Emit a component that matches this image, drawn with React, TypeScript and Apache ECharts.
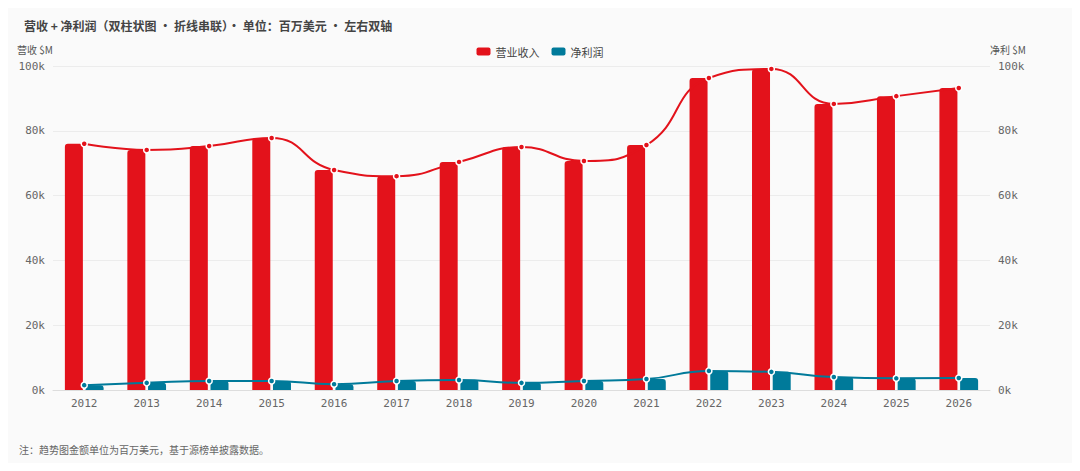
import * as echarts from 'echarts';
import { useEffect, useRef } from 'react';

const years = ['2012', '2013', '2014', '2015', '2016', '2017', '2018', '2019', '2020', '2021', '2022', '2023', '2024', '2025', '2026'];
const revenue = [76, 74.1, 75.3, 77.8, 67.9, 66, 70.4, 75, 70.7, 75.6, 96.3, 99.1, 88.3, 90.7, 93.2].map((v) => v * 1000);
const netIncome = [1.5, 2.2, 2.8, 2.8, 1.8, 2.8, 3.1, 2.2, 2.8, 3.4, 5.9, 5.6, 4.0, 3.6, 3.7].map((v) => v * 1000);

const RED = '#e3121b';
const BLUE = '#007a9a';
const mono = 'DejaVu Sans Mono';
const sans = 'Noto Sans CJK SC';

const axisLabelFmt = (v: number) => `${v / 1000}k`;

const App = () => {
  const chartRef = useRef<HTMLDivElement>(null);

  useEffect(() => {
    if (!chartRef.current) return;
    const chart = echarts.init(chartRef.current, null, { renderer: 'svg' });

    const valueAxis = (name: string, pos: 'left' | 'right') => ({
      type: 'value',
      position: pos,
      name,
      min: 0,
      max: 100000,
      interval: 20000,
      nameGap: 12,
      nameTextStyle: { color: '#555', fontSize: 10, fontFamily: sans, align: pos === 'left' ? 'right' : 'left', padding: 0 },
      axisLabel: { color: '#666', fontSize: 11, fontFamily: mono, formatter: axisLabelFmt },
      axisLine: { show: false },
      axisTick: { show: false },
      splitLine: { show: pos === 'left', lineStyle: { color: '#ececec' } },
    });

    chart.setOption({
      animation: false,
      backgroundColor: '#fafafa',
      title: {
        text: '营收 + 净利润（双柱状图 · 折线串联）· 单位：百万美元 · 左右双轴',
        left: 19,
        top: 14,
        textStyle: { fontSize: 12, fontWeight: 'bold', color: '#444', fontFamily: sans },
      },
      legend: {
        top: 41,
        left: 'center',
        itemWidth: 14,
        itemHeight: 8,
        itemGap: 12,
        textStyle: { color: '#444', fontSize: 11, fontFamily: sans },
        data: [
          { name: '营业收入', itemStyle: { color: RED } },
          { name: '净利润', itemStyle: { color: BLUE } },
        ],
      },
      grid: { left: 53, right: 90, top: 66, bottom: 81 },
      xAxis: {
        type: 'category',
        data: years,
        axisLine: { lineStyle: { color: '#ddd' } },
        axisTick: { lineStyle: { color: '#ddd' } },
        axisLabel: { color: '#666', fontSize: 11, fontFamily: mono, margin: 8 },
      },
      yAxis: [valueAxis('营收 $M', 'left'), valueAxis('净利 $M', 'right')],
      graphic: [
        {
          type: 'text',
          left: 19,
          top: 444,
          style: { text: '注：趋势图金额单位为百万美元，基于源榜单披露数据。', fill: '#666', fontSize: 10, fontFamily: sans },
        },
      ],
      series: [
        {
          name: '营业收入',
          type: 'bar',
          data: revenue,
          barWidth: 18,
          barGap: '15%',
          itemStyle: { color: RED, borderRadius: [3, 3, 0, 0] },
        },
        {
          name: '净利润',
          type: 'bar',
          yAxisIndex: 1,
          data: netIncome,
          barWidth: 18,
          itemStyle: { color: BLUE, borderRadius: [3, 3, 0, 0] },
        },
        {
          name: '营业收入',
          type: 'line',
          data: revenue,
          smooth: true,
          symbol: 'circle',
          symbolSize: 6,
          lineStyle: { color: RED, width: 2 },
          itemStyle: { color: RED, borderColor: '#fff', borderWidth: 1.5 },
          z: 5,
        },
        {
          name: '净利润',
          type: 'line',
          yAxisIndex: 1,
          data: netIncome,
          smooth: true,
          symbol: 'circle',
          symbolSize: 6,
          lineStyle: { color: BLUE, width: 2 },
          itemStyle: { color: BLUE, borderColor: '#fff', borderWidth: 1.5 },
          z: 5,
        },
      ],
    });

    const handleResize = () => chart.resize();
    window.addEventListener('resize', handleResize);
    return () => {
      window.removeEventListener('resize', handleResize);
      chart.dispose();
    };
  }, []);

  return <div ref={chartRef} style={{ width: 1080, height: 471, margin: -8 }} />;
};

export default App;
